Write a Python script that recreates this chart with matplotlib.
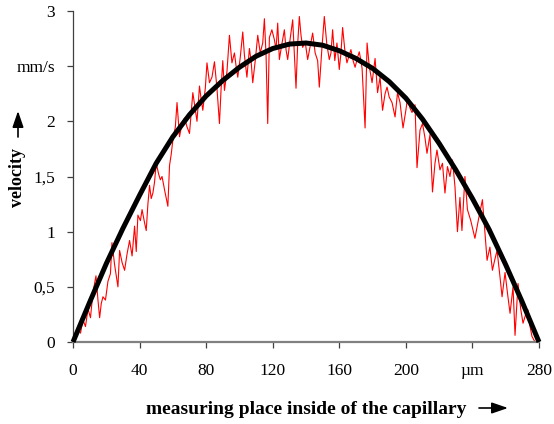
import matplotlib
matplotlib.use("Agg")
import matplotlib.pyplot as plt
from matplotlib.patches import FancyArrowPatch

# Smooth fitted profile (black)
fit_x = [0, 10, 20, 30, 40, 50, 60, 70, 80, 90, 100, 110, 120, 130, 140, 150, 160, 170, 180, 190,
         200, 210, 220, 230, 240, 250, 260, 270, 280]
fit_y = [0, 0.36, 0.71, 1.03, 1.33, 1.62, 1.86, 2.06, 2.23, 2.37, 2.49, 2.59, 2.66, 2.70, 2.71, 2.69, 2.64, 2.57, 2.48, 2.36,
         2.21, 2.02, 1.80, 1.56, 1.30, 1.02, 0.70, 0.36, 0]

# Measured velocity (red)
meas_x = [0, 1.5, 3, 4.5, 6, 7.5, 9, 10.5, 12, 13.8, 15, 16, 17, 18, 19.5, 21, 22.5, 23.4, 25, 27,
          28, 29.5, 31, 32.5, 34, 35.5, 37, 38, 39, 40.5, 41.5, 43, 44, 45, 46, 47, 48, 49, 50, 51.5,
          52.5, 53.5, 55, 57, 58, 59, 60, 61.5, 62.5, 64, 65.5, 67, 68.5, 70, 71, 72, 73.5, 74.5, 76, 77,
          78, 79.5, 80.5, 82, 83.5, 85, 86.5, 88, 89, 90, 91, 92.5, 94, 95.5, 97, 98, 99, 100.5, 102, 103,
          104.5, 106, 107, 108, 109.5, 111, 112.5, 114, 115, 116, 117, 118, 119.5, 121, 122, 123, 124, 125.5, 127, 128,
          129, 130.5, 132, 133, 134, 135, 136, 137, 138, 139.5, 141, 142.5, 144, 145.5, 147, 148, 149.6, 151, 152.5, 154,
          155, 156, 157.3, 158.6, 160, 161, 162, 163.3, 164.6, 166, 167, 168.3, 169.5, 171, 172, 173, 173.7, 175.5, 176.7, 178,
          179.7, 181.5, 183, 184.5, 186, 187.5, 188.7, 190, 191.7, 193.5, 195, 196.5, 198.3, 200, 201, 202.5, 203.7, 205.5, 206.7, 208.5,
          210, 211.5, 212.7, 214.5, 216, 217.5, 218.7, 220.5, 222, 223.5, 225, 226.5, 228, 229.5, 231, 232.5, 233.7, 235.5, 237, 239,
          241.5, 243.5, 246, 247.5, 248.8, 250.5, 252, 253.5, 254.8, 256.5, 257.8, 259.6, 261, 262.6, 264.4, 265.6, 267.4, 269, 270.4, 272,
          273.4, 274.5, 275.8, 277.6]
meas_y = [0.0, 0.05, 0.12, 0.08, 0.20, 0.14, 0.30, 0.22, 0.45, 0.60, 0.38, 0.22, 0.35, 0.41, 0.38, 0.55, 0.62, 0.90, 0.70, 0.50,
          0.83, 0.72, 0.65, 0.80, 0.92, 0.78, 1.05, 0.82, 1.15, 1.10, 1.20, 1.08, 1.01, 1.25, 1.42, 1.30, 1.35, 1.45, 1.62, 1.52,
          1.47, 1.50, 1.38, 1.23, 1.60, 1.70, 1.83, 1.95, 2.17, 1.86, 1.98, 2.03, 1.95, 1.89, 2.08, 2.26, 2.10, 2.00, 2.32, 2.20,
          2.10, 2.30, 2.53, 2.35, 2.40, 2.54, 2.30, 1.98, 2.30, 2.55, 2.28, 2.45, 2.78, 2.53, 2.62, 2.50, 2.40, 2.58, 2.81, 2.60,
          2.40, 2.66, 2.55, 2.35, 2.55, 2.78, 2.62, 2.71, 2.93, 2.60, 1.98, 2.76, 2.83, 2.74, 2.65, 2.89, 2.56, 2.70, 2.83, 2.65,
          2.56, 2.75, 2.92, 2.60, 2.30, 2.70, 2.95, 2.78, 2.67, 2.72, 2.56, 2.68, 2.80, 2.62, 2.55, 2.31, 2.67, 2.95, 2.70, 2.56,
          2.62, 2.83, 2.55, 2.71, 2.47, 2.62, 2.85, 2.65, 2.53, 2.60, 2.65, 2.55, 2.49, 2.58, 2.63, 2.55, 2.48, 1.94, 2.71, 2.50,
          2.35, 2.57, 2.26, 2.40, 2.10, 2.25, 2.31, 2.22, 2.17, 2.04, 2.26, 2.17, 1.94, 2.10, 2.21, 2.12, 2.08, 2.15, 1.58, 1.92,
          1.98, 1.85, 1.71, 1.88, 1.36, 1.62, 1.74, 1.56, 1.62, 1.35, 1.59, 1.50, 1.65, 1.41, 1.00, 1.31, 1.01, 1.50, 1.20, 1.10,
          0.94, 1.10, 1.29, 1.00, 0.74, 0.86, 0.65, 0.75, 0.83, 0.60, 0.41, 0.63, 0.45, 0.26, 0.50, 0.06, 0.53, 0.30, 0.17, 0.25,
          0.29, 0.15, 0.05, 0.0]

x_ticks = [0, 40, 80, 120, 160, 200, 240, 280]
x_labels = ["0", "40", "80", "120", "160", "200", "\u00b5m", "280"]
y_ticks = [0, 0.5, 1, 1.5, 2, 2.5, 3]
y_labels = ["0", "0,5", "1", "1,5", "2", "mm/s", "3"]

plt.rcParams['font.family'] = ['Liberation Serif', 'DejaVu Serif']

W, H = 554, 424
fig = plt.figure(figsize=(W / 100, H / 100), dpi=100)
ax = fig.add_axes([73/W, 82/H, 466/W, 331/H])

ax.plot(meas_x, meas_y, color='#ff0000', lw=0.8, zorder=2)
ax.plot(fit_x, fit_y, color='black', lw=3.6, zorder=3, clip_on=False,
        solid_capstyle='butt', solid_joinstyle='round')

ax.set_xlim(0, 280)
ax.set_ylim(0, 3)
ax.set_xticks(x_ticks)
ax.set_xticklabels(x_labels)
ax.set_yticks(y_ticks)
ax.set_yticklabels(y_labels)

for s in ['top', 'right']:
    ax.spines[s].set_visible(False)
ax.spines['left'].set_color('#404040')
ax.spines['left'].set_linewidth(0.9)
ax.spines['bottom'].set_color('#808080')
ax.spines['bottom'].set_linewidth(1.6)

ax.tick_params(axis='both', direction='out', length=4, width=0.9, color='#404040', labelsize=12.5)
ax.tick_params(axis='x', pad=11)
ax.tick_params(axis='y', pad=9)

# axis titles
fig.text(146/W, 1 - 409/H, "measuring place inside of the capillary", ha='left', va='center',
         fontsize=14, fontweight='bold')
fig.text(18/W, 1 - 178/H, "velocity", ha='center', va='center', rotation=90,
         fontsize=13, fontweight='bold')
# arrows
arrow_kw = dict(arrowstyle='-|>,head_length=0.7,head_width=0.24', color='black', lw=1.2,
                shrinkA=0, shrinkB=0, mutation_scale=14)
fig.add_artist(FancyArrowPatch((479/W, 1 - 408/H), (508/W, 1 - 408/H),
               transform=fig.transFigure, **arrow_kw))
fig.add_artist(FancyArrowPatch((18/W, 1 - 137/H), (18/W, 1 - 111/H),
               transform=fig.transFigure, **arrow_kw))

fig.savefig("out.png", dpi=100)
